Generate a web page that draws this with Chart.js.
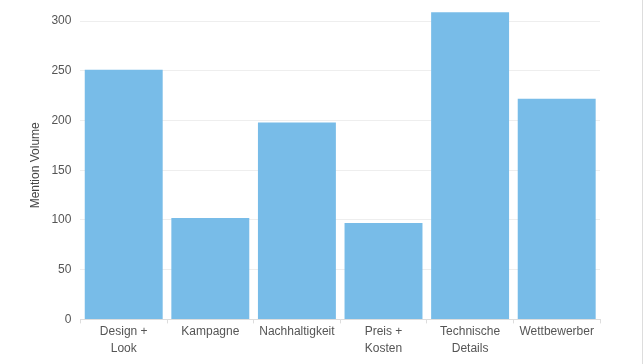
<!DOCTYPE html>
<html><head><meta charset="utf-8">
<script src="https://cdn.jsdelivr.net/npm/chart.js@4/dist/chart.umd.min.js"></script>
<style>
html,body{margin:0;padding:0;background:#fff;}
#wrap{position:relative;width:643px;height:364px;overflow:hidden;box-sizing:border-box;border-right:1px solid #ddd;}
#c{display:block;margin-top:-5px;}
</style></head>
<body><div id="wrap"><canvas id="c" width="642" height="367"></canvas></div>
<script>
const categories = [["Design +","Look"],"Kampagne","Nachhaltigkeit",["Preis +","Kosten"],["Technische","Details"],"Wettbewerber"];
const mentionVolume = [251, 102, 198, 97, 309, 222];
const yTicks = [0, 50, 100, 150, 200, 250, 300];
const yMax = 310;

new Chart(document.getElementById('c'), {
  type: 'bar',
  data: { labels: categories, datasets: [{ label: 'Mention Volume', data: mentionVolume, backgroundColor: '#78bce8', borderWidth: 0, barPercentage: 0.9, categoryPercentage: 1.0 }] },
  options: {
    responsive: false, animation: false,
    layout: { padding: { top: 0, right: 42, left: 28, bottom: 5 } },
    plugins: { legend: { display: false }, tooltip: { enabled: false } },
    scales: {
      x: {
        grid: { drawOnChartArea: false, color: '#ddd', tickLength: 4 },
        border: { color: '#ddd' },
        ticks: { color: '#555', font: { family: 'Liberation Sans, Arial, sans-serif', size: 12, lineHeight: 1.4 }, maxRotation: 0, padding: 0 }
      },
      y: {
        min: 0, max: yMax,
        afterBuildTicks: axis => { axis.ticks = yTicks.map(v => ({ value: v })); },
        grid: { color: '#eeeeee', tickLength: 0 },
        border: { display: false },
        ticks: { color: '#555', font: { family: 'Liberation Sans, Arial, sans-serif', size: 12 }, padding: 9 },
        title: { display: true, text: 'Mention Volume', color: '#444', font: { family: 'Liberation Sans, Arial, sans-serif', size: 12 }, padding: { top: 0, bottom: 0 } }
      }
    }
  }
});
</script></body></html>
